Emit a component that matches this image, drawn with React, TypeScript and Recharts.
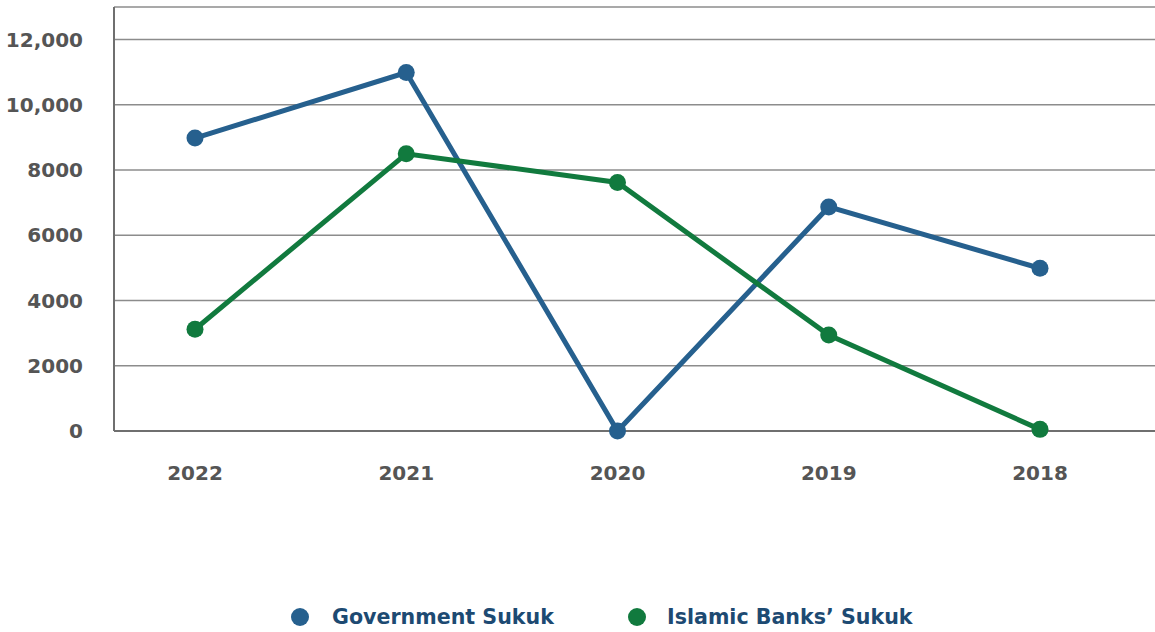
import React from "react";
import {
  LineChart,
  Line,
  XAxis,
  YAxis,
  CartesianGrid,
  Legend,
} from "recharts";

const years = ["2022", "2021", "2020", "2019", "2018"];
const governmentSukuk = [8980, 10990, 0, 6870, 4990];
const islamicBanksSukuk = [3120, 8500, 7620, 2940, 50];
const yTicks = [0, 2000, 4000, 6000, 8000, 10000, 12000];

const BLUE = "#26608e";
const GREEN = "#117a3e";
const FONT = "'DejaVu Sans', sans-serif";

const data = years.map((year, i) => ({
  year,
  government: governmentSukuk[i],
  islamic: islamicBanksSukuk[i],
}));

// 8000 has no comma in the original, only five-digit values do
const formatTick = (v: number) =>
  v >= 10000 ? v.toLocaleString("en-US") : String(v);

function SukukLegend() {
  const items = [
    { label: "Government Sukuk", color: BLUE, dot: 300, text: 332 },
    { label: "Islamic Banks\u2019 Sukuk", color: GREEN, dot: 637, text: 667 },
  ];
  return (
    <div style={{ position: "relative", height: 30, width: 1155 }}>
      {items.map((item) => (
        <React.Fragment key={item.label}>
          <span
            style={{
              position: "absolute",
              left: item.dot - 9,
              top: 6,
              width: 18,
              height: 18,
              borderRadius: "50%",
              background: item.color,
            }}
          />
          <span
            style={{
              position: "absolute",
              left: item.text,
              top: 0,
              lineHeight: "30px",
              fontFamily: FONT,
              fontWeight: 700,
              fontSize: 20.6,
              color: "#1d4a72",
              whiteSpace: "nowrap",
            }}
          >
            {item.label}
          </span>
        </React.Fragment>
      ))}
    </div>
  );
}

export default function App() {
  return (
    <div style={{ position: "absolute", left: 0, top: 0, background: "#fff" }}>
      <LineChart
        width={1155}
        height={632}
        data={data}
        margin={{ top: 7, right: 0, bottom: 0, left: 0 }}
      >
        <CartesianGrid
          vertical={false}
          stroke="#8c8c8c"
          strokeWidth={1.5}
        />
        <XAxis
          dataKey="year"
          height={171}
          padding={{ left: 81, right: 115 }}
          tickLine={false}
          tickSize={0}
          tickMargin={35}
          axisLine={{ stroke: "#6f6f6f", strokeWidth: 2 }}
          tick={{ fill: "#555", fontSize: 20, fontWeight: 700, fontFamily: FONT }}
        />
        <YAxis
          width={114}
          domain={[0, 13000]}
          ticks={yTicks}
          tickFormatter={formatTick}
          tickLine={false}
          tickSize={0}
          tickMargin={31}
          axisLine={{ stroke: "#6f6f6f", strokeWidth: 2 }}
          tick={{ fill: "#555", fontSize: 20, fontWeight: 700, fontFamily: FONT }}
        />
        <Legend
          verticalAlign="bottom"
          height={30}
          content={() => <SukukLegend />}
        />
        <Line
          dataKey="government"
          name="Government Sukuk"
          stroke={BLUE}
          strokeWidth={5}
          dot={{ r: 8.5, fill: BLUE, stroke: BLUE, strokeWidth: 0 }}
          activeDot={false}
          isAnimationActive={false}
        />
        <Line
          dataKey="islamic"
          name="Islamic Banks' Sukuk"
          stroke={GREEN}
          strokeWidth={5}
          dot={{ r: 8.5, fill: GREEN, stroke: GREEN, strokeWidth: 0 }}
          activeDot={false}
          isAnimationActive={false}
        />
      </LineChart>
    </div>
  );
}
